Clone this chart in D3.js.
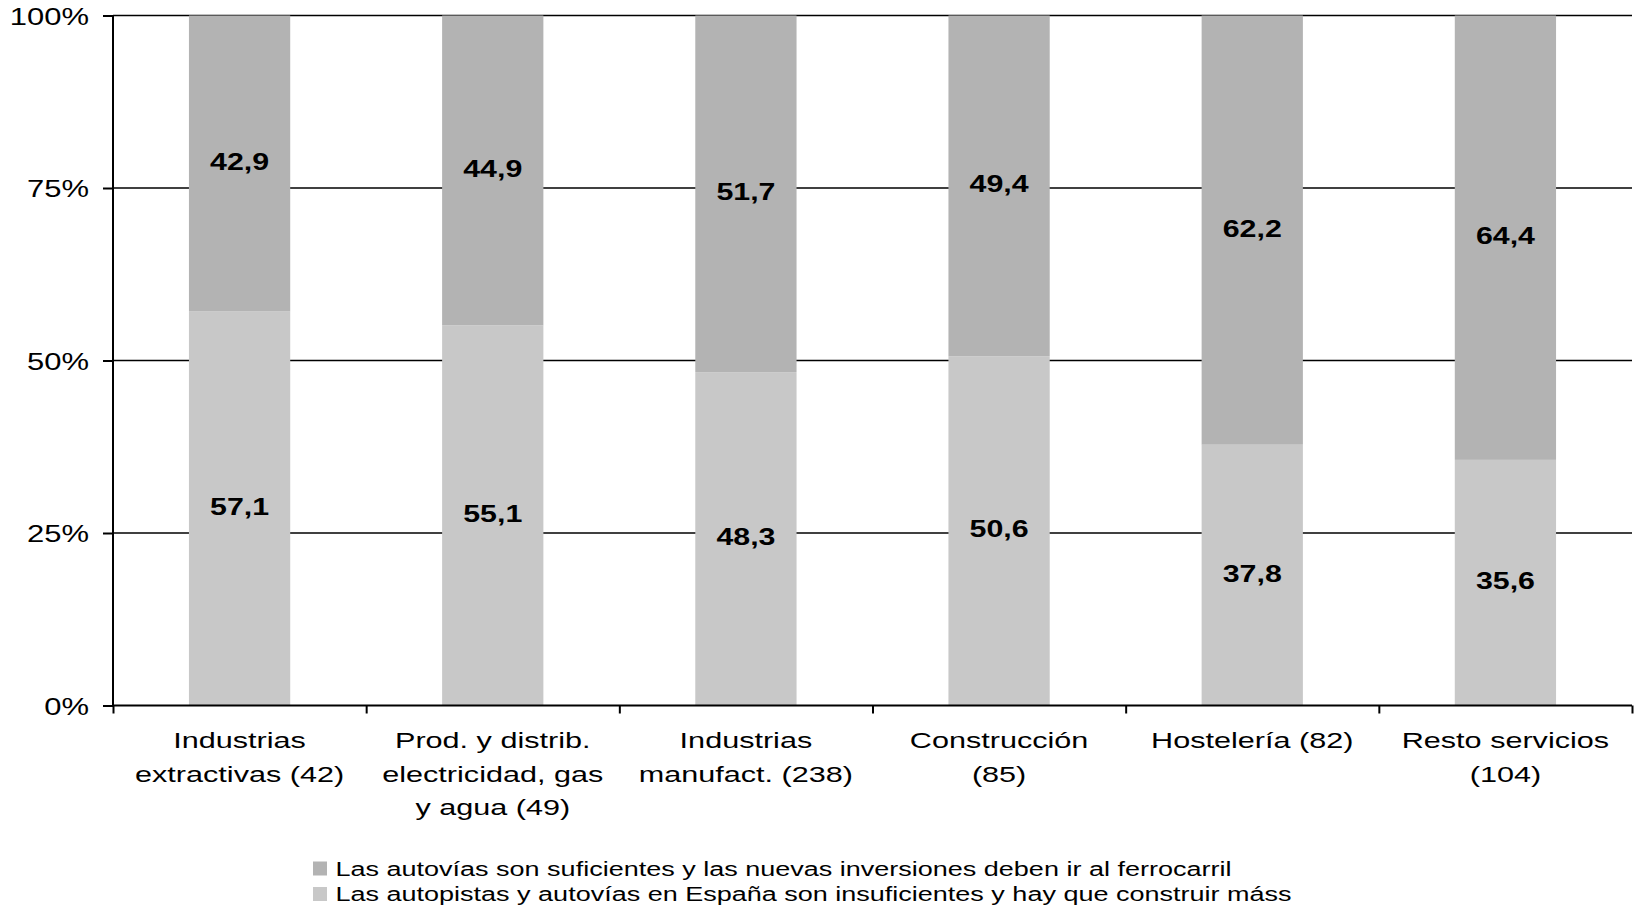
<!DOCTYPE html>
<html>
<head>
<meta charset="utf-8">
<script src="https://cdn.jsdelivr.net/npm/d3@7"></script>
<style>
  html, body { margin: 0; padding: 0; background: #fff; }
  svg { display: block; }
  text { font-family: "Liberation Sans", Arial, sans-serif; fill: #000; }
</style>
</head>
<body>
<svg id="chart" width="1637" height="906"></svg>
<script>
// ---- data ----
const categories = [
  ["Industrias", "extractivas (42)"],
  ["Prod. y distrib.", "electricidad, gas", "y agua (49)"],
  ["Industrias", "manufact. (238)"],
  ["Construcción", "(85)"],
  ["Hostelería (82)"],
  ["Resto servicios", "(104)"]
];
const suficientes   = [42.9, 44.9, 51.7, 49.4, 62.2, 64.4];
const insuficientes = [57.1, 55.1, 48.3, 50.6, 37.8, 35.6];
const yTicks = [0, 25, 50, 75, 100];
const seriesNames = [
  "Las autovías son suficientes y las nuevas inversiones deben ir al ferrocarril",
  "Las autopistas y autovías en España son insuficientes y hay que construir máss"
];
const colors = { suf: "#b3b3b3", insuf: "#c8c8c8" };

// ---- layout ----
const SX = 1.35; // horizontal text stretch of the original
const mLeft = 113, mRight = 1632, mTop = 15.5, mBottom = 705.5;
const svg = d3.select("#chart");

const idx = d3.range(categories.length);
const x = d3.scaleBand().domain(idx).range([mLeft, mRight]).paddingInner(0.6).paddingOuter(0.3);
const xb = d3.scaleLinear().domain([0, categories.length]).range([mLeft, mRight]);
const y = d3.scaleLinear().domain([0, 100]).range([mBottom, mTop]);

function stretchedText(g, tx, ty, txt, opts) {
  const t = g.append("g").attr("transform", `translate(${tx},${ty}) scale(${opts.sx || SX},1)`)
    .append("text")
    .attr("text-anchor", opts.anchor || "middle")
    .attr("font-size", opts.size)
    .attr("font-weight", opts.weight || "normal")
    .text(txt);
  if (opts.dy) t.attr("dy", opts.dy);
  return t;
}

// gridlines
svg.append("g").selectAll("line").data(yTicks.filter(d => d > 0)).join("line")
  .attr("x1", mLeft).attr("x2", mRight)
  .attr("y1", d => y(d)).attr("y2", d => y(d))
  .attr("stroke", "#000").attr("stroke-width", 1.6);

// bars
const fmt = v => d3.format(".1f")(v).replace(".", ",");
const bars = svg.append("g");
idx.forEach(i => {
  const b = insuficientes[i], s = suficientes[i];
  bars.append("rect").attr("x", x(i)).attr("width", x.bandwidth())
    .attr("y", y(b)).attr("height", y(0) - y(b)).attr("fill", colors.insuf);
  bars.append("rect").attr("x", x(i)).attr("width", x.bandwidth())
    .attr("y", y(b + s)).attr("height", y(b) - y(b + s)).attr("fill", colors.suf);
});

// data labels
const labels = svg.append("g");
idx.forEach(i => {
  const b = insuficientes[i], s = suficientes[i];
  const cx = x(i) + x.bandwidth() / 2;
  stretchedText(labels, cx, (y(0) + y(b)) / 2, fmt(b), { size: 23, weight: "bold", dy: "0.28em", sx: 1.32 });
  stretchedText(labels, cx, (y(b) + y(b + s)) / 2, fmt(s), { size: 23, weight: "bold", dy: "0.28em", sx: 1.32 });
});

// y axis
const yAxis = svg.append("g").attr("transform", `translate(${mLeft},0)`)
  .call(d3.axisLeft(y).tickValues(yTicks).tickSize(10).tickFormat(""));
yAxis.selectAll("path, line").attr("stroke", "#000").attr("stroke-width", 2);
yAxis.select(".domain").attr("d", `M0,${mTop}V${mBottom}`);
const yl = svg.append("g");
yTicks.forEach(t => {
  stretchedText(yl, 89, y(t) + 1, t + "%", { size: 23.3, anchor: "end", dy: "0.36em", sx: 1.33 });
});

// x axis
const xAxis = svg.append("g").attr("transform", `translate(0,${mBottom})`)
  .call(d3.axisBottom(xb).tickValues(d3.range(categories.length + 1)).tickSize(8).tickFormat(""));
xAxis.selectAll("path, line").attr("stroke", "#000").attr("stroke-width", 2);
xAxis.select(".domain").attr("d", `M${mLeft},0H${mRight}`);

const xl = svg.append("g");
idx.forEach(i => {
  const cx = x(i) + x.bandwidth() / 2;
  categories[i].forEach((line, j) => {
    stretchedText(xl, cx, 748 + j * 33.5, line, { size: 22.5, sx: 1.36 });
  });
});

// legend
const lg = svg.append("g");
const legendColors = [colors.suf, colors.insuf];
seriesNames.forEach((name, i) => {
  const by = 875.5 + i * 25.5;
  lg.append("rect").attr("x", 313).attr("y", by - 14).attr("width", 14).attr("height", 14)
    .attr("fill", legendColors[i]);
  stretchedText(lg, 335.5, by, name, { size: 19.5, anchor: "start", sx: 1.385 });
});
</script>
</body>
</html>
